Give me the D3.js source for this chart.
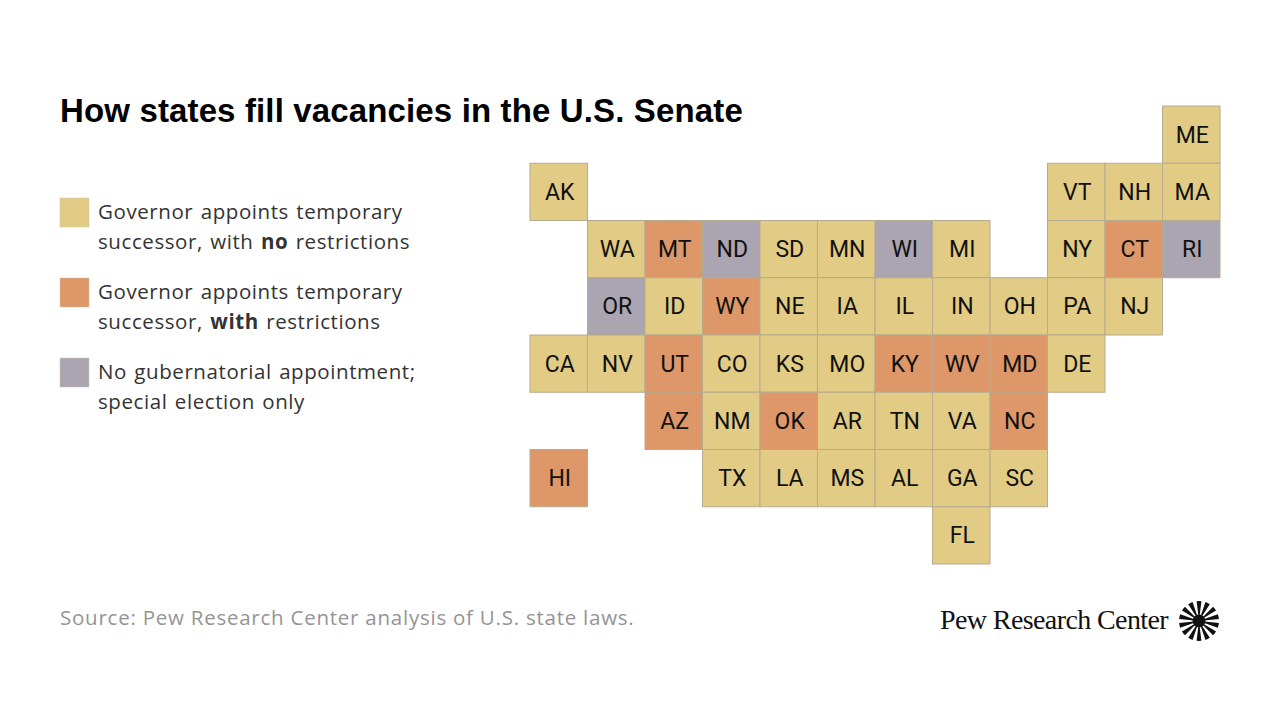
<!DOCTYPE html>
<html>
<head>
<meta charset="utf-8">
<script src="https://d3js.org/d3.v7.min.js"></script>
<style>
  body { margin: 0; background: #fff; }
  text { font-family: "Open Sans", sans-serif; }
  .tile text { font-family: "Roboto", sans-serif; font-size: 23px; fill: #111; }
</style>
</head>
<body>
<svg id="chart" width="1280" height="720"></svg>
<script>
// tile map layout, one string per row, "--" is an empty cell
const tileRows = [
  "-- -- -- -- -- -- -- -- -- -- -- ME",
  "AK -- -- -- -- -- -- -- -- VT NH MA",
  "-- WA MT ND SD MN WI MI -- NY CT RI",
  "-- OR ID WY NE IA IL IN OH PA NJ --",
  "CA NV UT CO KS MO KY WV MD DE -- --",
  "-- -- AZ NM OK AR TN VA NC -- -- --",
  "HI -- -- TX LA MS AL GA SC -- -- --",
  "-- -- -- -- -- -- -- FL -- -- -- --"
];
const withRestrictions = ["MT", "CT", "WY", "UT", "KY", "WV", "MD", "AZ", "OK", "NC", "HI"];
const specialOnly = ["ND", "WI", "RI", "OR"];

const categories = ["none", "with", "special"];
const categoryColors = ["#e2cb84", "#dd9768", "#aba4b1"];

const legendLines = [
  [["Governor appoints temporary", false], ["successor, with ", false], ["no", true], [" restrictions", false]],
  [["Governor appoints temporary", false], ["successor, ", false], ["with", true], [" restrictions", false]],
  [["No gubernatorial appointment;", false], ["special election only", false]]
];

const svg = d3.select("#chart");
const color = d3.scaleOrdinal().domain(categories).range(categoryColors);

function categoryOf(s) {
  if (withRestrictions.includes(s)) return "with";
  if (specialOnly.includes(s)) return "special";
  return "none";
}

const tiles = [];
tileRows.forEach(function(r, i) {
  r.split(" ").forEach(function(s, j) {
    if (s != "--") tiles.push({ state: s, row: i, col: j });
  });
});

const x = d3.scaleBand().domain(d3.range(12)).range([530, 1220]);
const y = d3.scaleBand().domain(d3.range(8)).range([106, 564]);

// title
svg.append("text")
  .attr("x", 60).attr("y", 122)
  .attr("font-size", 33).attr("font-weight", 700).attr("fill", "#000")
  .attr("letter-spacing", 0.14)
  .style("font-family", "Liberation Sans")
  .text("How states fill vacancies in the U.S. Senate");

// tiles
const tile = svg.append("g").selectAll("g")
  .data(tiles)
  .enter().append("g")
  .attr("class", "tile")
  .attr("transform", function(d) { return "translate(" + x(d.col) + "," + y(d.row) + ")"; });

tile.append("rect")
  .attr("width", x.bandwidth())
  .attr("height", y.bandwidth())
  .attr("fill", function(d) { return color(categoryOf(d.state)); })
  .attr("stroke", "#b5ab8f")
  .attr("stroke-width", 1);

tile.append("text")
  .attr("x", x.bandwidth() / 2 + 1)
  .attr("y", y.bandwidth() / 2 + 8)
  .attr("text-anchor", "middle")
  .text(function(d) { return d.state; });

// legend
const legend = svg.append("g").selectAll("g")
  .data(categories)
  .enter().append("g")
  .attr("transform", function(d, i) { return "translate(60," + (198 + i * 80) + ")"; });

legend.append("rect")
  .attr("width", 29).attr("height", 29)
  .attr("fill", function(d) { return color(d); })
  .attr("stroke", "#c9c2ae").attr("stroke-width", 0.5);

legend.each(function(d, i) {
  const parts = legendLines[i];
  const t = d3.select(this).append("text")
    .attr("font-size", 20.5).attr("fill", "#333")
    .attr("letter-spacing", 0.58).attr("word-spacing", 1.5);
  t.append("tspan").attr("x", 38).attr("y", 21).text(parts[0][0]);
  parts.slice(1).forEach(function(p, k) {
    const sp = t.append("tspan").attr("font-weight", p[1] ? 700 : 400).text(p[0]);
    if (k == 0) sp.attr("x", 38).attr("y", 51);
  });
});

// source
svg.append("text")
  .attr("x", 60).attr("y", 625)
  .attr("font-size", 20.5).attr("fill", "#949494")
  .attr("letter-spacing", 0.76)
  .text("Source: Pew Research Center analysis of U.S. state laws.");

// logo
svg.append("text")
  .attr("x", 940).attr("y", 629)
  .attr("font-size", 28).attr("fill", "#111")
  .attr("letter-spacing", -0.6)
  .style("font-family", "Liberation Serif")
  .text("Pew Research Center");

const logo = svg.append("g").attr("transform", "translate(1199,621)");
const ray = d3.arc().innerRadius(5).outerRadius(20);
logo.selectAll("path")
  .data(d3.range(14))
  .enter().append("path")
  .attr("d", function(d) {
    const a = d * Math.PI / 7;
    return ray({ startAngle: a - 0.12, endAngle: a + 0.12 });
  })
  .attr("fill", "#111");
logo.append("circle").attr("r", 6.5).attr("fill", "#111");
</script>
</body>
</html>
